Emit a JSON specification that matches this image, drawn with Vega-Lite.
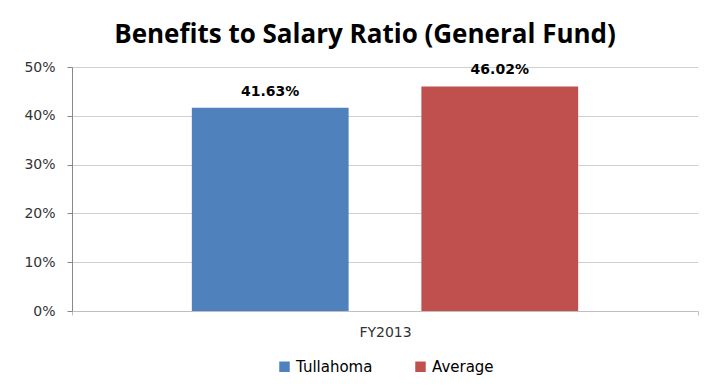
{
  "$schema": "https://vega.github.io/schema/vega-lite/v6.json",
  "width": 626,
  "height": 244,
  "autosize": "none",
  "padding": {"left": 72, "top": 67, "right": 28, "bottom": 75},
  "background": "white",
  "title": {
    "text": "Benefits to Salary Ratio (General Fund)",
    "font": "Open Sans",
    "fontSize": 26,
    "fontWeight": "bold",
    "color": "#000000",
    "anchor": "middle",
    "dx": -20,
    "offset": 12
  },
  "data": {
    "values": [
      {"year": "FY2013", "series": "Tullahoma", "ratio": 0.4163},
      {"year": "FY2013", "series": "Average", "ratio": 0.4602}
    ]
  },
  "encoding": {
    "x": {
      "field": "year",
      "type": "nominal",
      "title": null,
      "scale": {"paddingInner": 0, "paddingOuter": 0},
      "axis": {
        "labelAngle": 0,
        "labelFont": "DejaVu Sans",
        "labelFontSize": 14,
        "labelColor": "#333333",
        "labelPadding": 10,
        "domainColor": "#bfbfbf",
        "tickColor": "#bfbfbf",
        "tickBand": "extent",
        "tickSize": 4
      }
    },
    "xOffset": {
      "field": "series",
      "type": "nominal",
      "sort": ["Tullahoma", "Average"],
      "scale": {"paddingInner": 0.317, "paddingOuter": 0.522}
    },
    "y": {
      "field": "ratio",
      "type": "quantitative",
      "title": null,
      "scale": {"domain": [0, 0.5]},
      "axis": {
        "format": ".0%",
        "values": [0, 0.1, 0.2, 0.3, 0.4, 0.5],
        "labelFont": "DejaVu Sans",
        "labelFontSize": 14,
        "labelColor": "#333333",
        "labelPadding": 12,
        "domainColor": "#888888",
        "tickColor": "#888888",
        "tickSize": 5,
        "gridColor": "#d0d0d0",
        "gridWidth": 1
      }
    }
  },
  "layer": [
    {
      "mark": {"type": "bar"},
      "encoding": {
        "color": {
          "field": "series",
          "type": "nominal",
          "sort": ["Tullahoma", "Average"],
          "scale": {"domain": ["Tullahoma", "Average"], "range": ["#4F81BD", "#C0504D"]},
          "legend": {
            "title": null,
            "orient": "bottom",
            "direction": "horizontal",
            "symbolType": "square",
            "symbolSize": 110,
            "symbolStrokeWidth": 0,
            "labelFont": "DejaVu Sans",
            "labelFontSize": 15,
            "labelColor": "#000000",
            "columnPadding": 40,
            "offset": 20
          }
        }
      }
    },
    {
      "mark": {"type": "text", "font": "DejaVu Sans", "fontSize": 14, "fontWeight": "bold", "dy": -16, "color": "#000000"},
      "encoding": {
        "text": {"field": "ratio", "type": "quantitative", "format": ".2%"}
      }
    }
  ],
  "config": {
    "view": {"stroke": null},
    "axisX": {"grid": false},
    "legend": {"layout": {"bottom": {"anchor": "middle"}}}
  }
}
